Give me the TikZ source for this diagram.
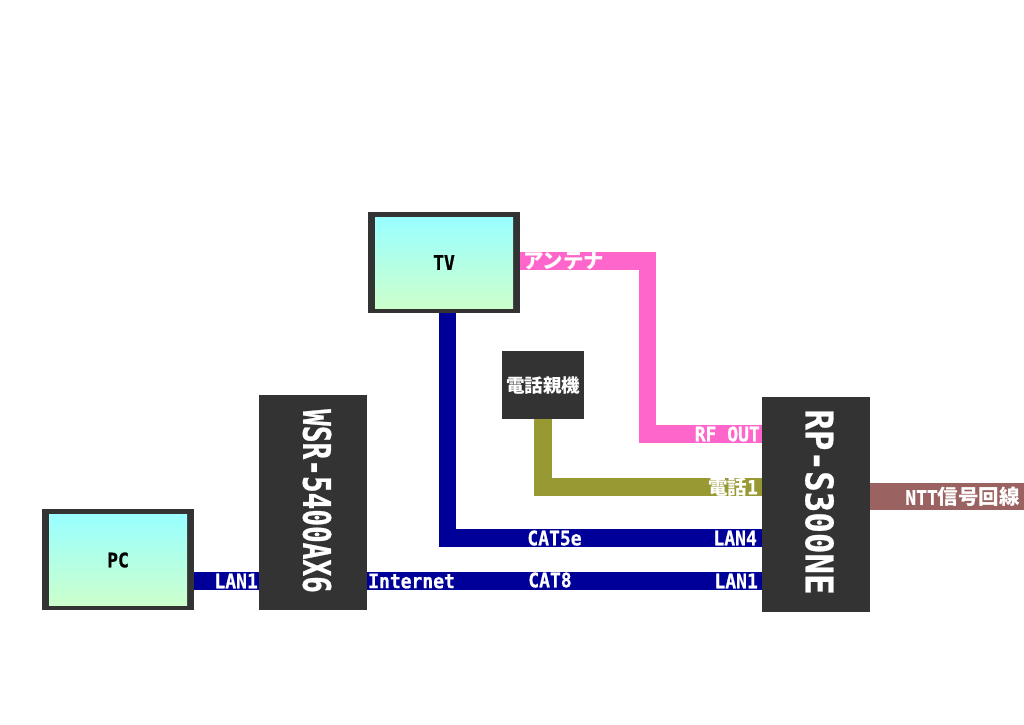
\documentclass[tikz,border=0pt]{standalone}
\usepackage{fontspec}
\newfontfamily\latinfont[FakeStretch=0.9,BoldFeatures={FakeBold=0.7}]{DejaVu Sans Mono}
\newfontfamily\bigfont[FakeStretch=0.9,BoldFeatures={FakeBold=0.7}]{DejaVu Sans Mono}
\newfontfamily\narrowfont[FakeStretch=0.73,BoldFeatures={FakeBold=0.7}]{DejaVu Sans Mono}
\newfontfamily\cjkfont{Noto Sans CJK JP}
\newcommand{\ja}[1]{{\cjkfont #1}}
\definecolor{boxgray}{HTML}{333333}
\definecolor{lanblue}{HTML}{000099}
\definecolor{rfpink}{HTML}{FF66CC}
\definecolor{telolive}{HTML}{999933}
\definecolor{nttbrown}{HTML}{9B6262}
\begin{document}
\begin{tikzpicture}[x=1pt,y=-1pt]
		\tikzstyle{monitor}=[fill=boxgray,minimum width=152pt,minimum height=101pt,inner sep=0pt,outer sep=0pt]
		\tikzstyle{screen}=[top color=cyan!40,bottom color=green!20,minimum width=138pt,minimum height=91pt,inner sep=0pt,text=black]
		\tikzstyle{device}=[fill=boxgray,text=white,inner sep=0pt,outer sep=0pt,minimum width=108pt,minimum height=215pt]
		\tikzstyle{bigname}=[rotate=-90,text=white,font=\bfseries\fontsize{38}{38}\selectfont]
		\tikzstyle{cable}=[line width=17.5pt]
		\tikzstyle{LabelStyle}=[text=white,inner sep=0pt,font=\latinfont\bfseries\fontsize{20}{20}\selectfont]
		\useasboundingbox (0,0) rectangle (1024,724);
		\fill[white] (0,0) rectangle (1024,724);
		% devices
		\node[monitor] (tv) at (444,262.5) {};
		\node[screen,font=\latinfont\bfseries\fontsize{20}{20}\selectfont] (tvscreen) at (444,262.5) {TV};
		\node[monitor] (pc) at (118,559.5) {};
		\node[screen,font=\latinfont\bfseries\fontsize{20}{20}\selectfont] (pcscreen) at (118,560) {PC};
		\node[device] (wsr) at (313,502.5) {};
		\node[bigname,font=\narrowfont\bfseries\fontsize{38}{38}\selectfont] (wsrname) at ([xshift=4pt,yshift=1.5pt]wsr.center) {WSR-5400AX6};
		\node[device] (rp) at (815.5,504.5) {};
		\node[bigname,font=\bigfont\bfseries\fontsize{38}{38}\selectfont] (rpname) at ([xshift=4pt,yshift=2.5pt]rp.center) {RP-S300NE};
		\node[fill=boxgray,text=white,inner sep=0pt,minimum width=82pt,minimum height=68pt,font=\bfseries\fontsize{18.5}{18.5}\selectfont] (phone) at (543,385) {\ja{電話親機}};
		% ports
		\coordinate (rfport) at (rp.west |- 0,434);
		\coordinate (telport) at (rp.west |- 0,487);
		\coordinate (lanfour) at (rp.west |- 0,538);
		\coordinate (lanone) at (rp.west |- 0,581);
		\coordinate (nttend) at (1024,496);
		% cables
		\draw[cable,rfpink] (tv.east |- 0,261) -| (647.5,434) -- (rfport);
		\draw[cable,telolive] (phone.south) -- (phone.south |- telport) -- (telport);
		\draw[cable,lanblue] (447.5,313) -- (447.5,538) -- (lanfour);
		\draw[cable,lanblue] (wsr.east |- lanone) -- (lanone);
		\draw[cable,lanblue] (pc.east |- lanone) -- (wsr.west |- lanone);
		\draw[line width=27pt,nttbrown] (rp.east |- nttend) -- (nttend);
		% labels
		\node[LabelStyle,anchor=west] (antenna) at (523,261) {\fontsize{20.5}{20}\selectfont\ja{アンテナ}};
		\node[LabelStyle,anchor=east] (rflabel) at (760,434) {RF OUT};
		\node[LabelStyle,anchor=east] (tellabel) at (758,487) {\fontsize{19.5}{20}\selectfont\ja{電話}1};
		\node[LabelStyle,anchor=east] (lanfourlabel) at (757,538) {LAN4};
		\node[LabelStyle,anchor=east] (lanonelabel) at (758,581) {LAN1};
		\node[LabelStyle] (cate) at (554.5,538) {CAT5e};
		\node[LabelStyle] (cateight) at (550,580) {CAT8};
		\node[LabelStyle,anchor=west] (internet) at (368,581) {Internet};
		\node[LabelStyle,anchor=east] (pclan) at (258,581) {LAN1};
		\node[LabelStyle,anchor=east] (ntt) at (1020,497) {NTT\fontsize{20.5}{20}\selectfont\ja{信号回線}};
\end{tikzpicture}
\end{document}
